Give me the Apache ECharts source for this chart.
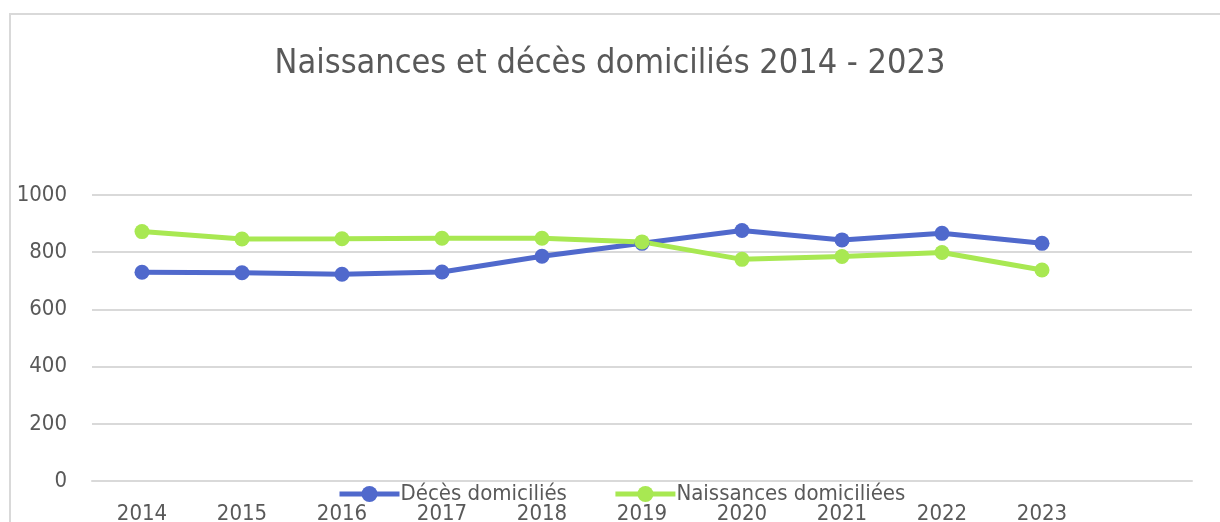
<!DOCTYPE html>
<html>
<head>
<meta charset="utf-8">
<script src="https://cdn.jsdelivr.net/npm/echarts@6/dist/echarts.min.js"></script>
<style>
  html, body { margin: 0; padding: 0; background: #fff; }
  #chart { width: 1220px; height: 522px; }
</style>
</head>
<body>
<div id="chart"></div>
<script>
// donnees
var years = ['2014', '2015', '2016', '2017', '2018', '2019', '2020', '2021', '2022', '2023', ''];
var deces = [730, 728, 723, 731, 786, 831, 876, 843, 866, 831];
var naissances = [872, 846, 847, 849, 849, 836, 775, 785, 799, 738];
var yTicks = [0, 200, 400, 600, 800, 1000];

var font = "'Liberation Sans Narrow', 'DejaVu Sans Condensed', sans-serif";
var chart = echarts.init(document.getElementById('chart'));

chart.setOption({
  animation: false,
  textStyle: { fontFamily: font },
  title: {
    text: 'Naissances et décès domiciliés 2014 - 2023',
    left: 'center',
    top: 42,
    textStyle: { fontFamily: font, fontSize: 34, fontWeight: 'normal', color: '#595959' }
  },
  graphic: [{
    type: 'rect',
    shape: { x: 10, y: 14, width: 1230, height: 530 },
    style: { fill: 'none', stroke: '#d9d9d9', lineWidth: 2 },
    silent: true
  }],
  legend: {
    bottom: 12,
    left: 332,
    itemGap: 46,
    itemWidth: 60,
    itemHeight: 20,
    lineStyle: { width: 5 },
    textStyle: { fontFamily: font, fontSize: 22, color: '#595959', padding: [0, 0, 0, -4] },
    data: ['Décès domiciliés', 'Naissances domiciliées']
  },
  grid: { left: 92, right: 28, top: 195, bottom: 41, outerBoundsMode: 'none', containLabel: false },
  xAxis: {
    type: 'category',
    data: years,
    boundaryGap: true,
    axisLine: { lineStyle: { color: '#d9d9d9', width: 2 } },
    axisTick: { show: false },
    axisLabel: { interval: 0, margin: 22, fontSize: 22, color: '#595959', fontFamily: font }
  },
  yAxis: {
    type: 'value',
    min: yTicks[0],
    max: yTicks[yTicks.length - 1],
    interval: 200,
    axisLine: { show: false },
    axisTick: { show: false },
    axisLabel: {
      margin: 25, fontSize: 22, color: '#595959', fontFamily: font,
      formatter: function (v) { return String(v); }
    },
    splitLine: { lineStyle: { color: '#d9d9d9', width: 2 } }
  },
  series: [{
    name: 'Décès domiciliés',
    type: 'line',
    data: deces,
    symbol: 'circle',
    symbolSize: 15,
    color: '#5069cc',
    lineStyle: { width: 5 }
  }, {
    name: 'Naissances domiciliées',
    type: 'line',
    data: naissances,
    symbol: 'circle',
    symbolSize: 15,
    color: '#a8e852',
    lineStyle: { width: 5 }
  }]
});
</script>
</body>
</html>
